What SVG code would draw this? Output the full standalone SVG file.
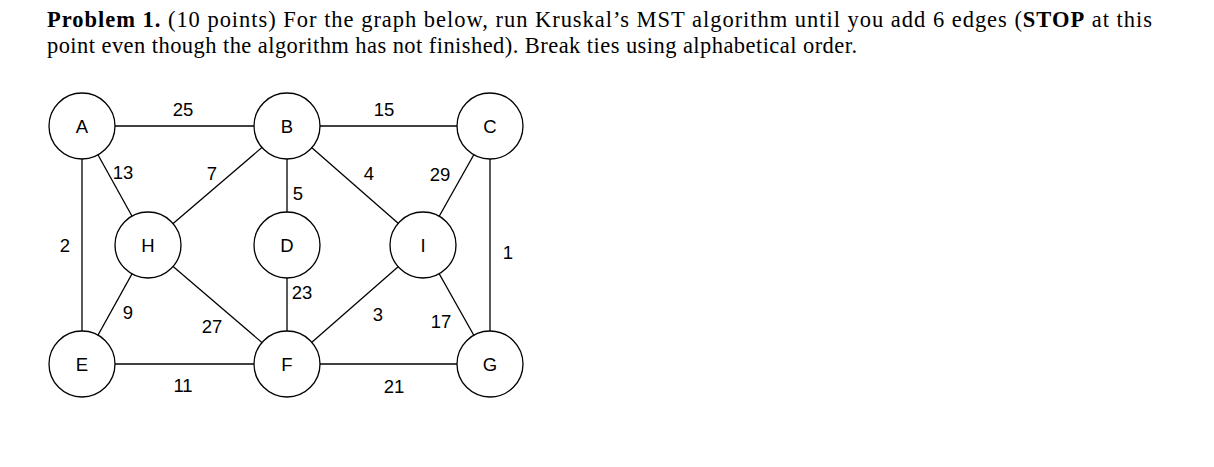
<svg xmlns="http://www.w3.org/2000/svg" width="1214" height="467" viewBox="0 0 1214 467">
<style>
.n{fill:#fff;stroke:#000;stroke-width:1.3}
.e{stroke:#000;stroke-width:1.3}
.t{font-family:"Liberation Sans",Arial,sans-serif;font-size:18.5px;text-anchor:middle;dominant-baseline:central}
.p{font-family:"Liberation Serif","Times New Roman",serif;font-size:22.5px}
</style>
<rect width="1214" height="467" fill="#fff"/>
<text class="p" x="47" y="27" textLength="1105" lengthAdjust="spacing"><tspan font-weight="bold">Problem  1.</tspan> (10 points) For the graph below, run Kruskal’s MST algorithm until you add 6 edges (<tspan font-weight="bold">STOP</tspan> at this</text>
<text class="p" x="47" y="53" textLength="810" lengthAdjust="spacing">point even though the algorithm has not finished). Break ties using alphabetical order.</text>
<g id="edges">
<line class="e" x1="82" y1="126" x2="287" y2="126"/>
<line class="e" x1="287" y1="126" x2="490" y2="126"/>
<line class="e" x1="82" y1="126" x2="148" y2="245"/>
<line class="e" x1="82" y1="126" x2="82" y2="364"/>
<line class="e" x1="287" y1="126" x2="148" y2="245"/>
<line class="e" x1="287" y1="126" x2="287" y2="364"/>
<line class="e" x1="287" y1="126" x2="423" y2="245"/>
<line class="e" x1="490" y1="126" x2="423" y2="245"/>
<line class="e" x1="490" y1="126" x2="490" y2="364"/>
<line class="e" x1="148" y1="245" x2="82" y2="364"/>
<line class="e" x1="148" y1="245" x2="287" y2="364"/>
<line class="e" x1="423" y1="245" x2="287" y2="364"/>
<line class="e" x1="423" y1="245" x2="490" y2="364"/>
<line class="e" x1="82" y1="364" x2="490" y2="364"/>
<g class="t">
<text x="183" y="109">25</text><text x="384" y="109">15</text>
<text x="123" y="172">13</text><text x="212" y="173">7</text>
<text x="298" y="193">5</text><text x="369" y="173">4</text>
<text x="440" y="174">29</text><text x="65" y="245">2</text>
<text x="508" y="252">1</text><text x="128" y="312">9</text>
<text x="212" y="326">27</text><text x="302" y="292">23</text>
<text x="378" y="314">3</text><text x="441" y="321">17</text>
<text x="183" y="385">11</text><text x="394" y="386">21</text>
</g>
</g>
<g id="A"><circle class="n" cx="82" cy="126" r="33"/><text class="t" x="82" y="126">A</text></g>
<g id="B"><circle class="n" cx="287" cy="126" r="33"/><text class="t" x="287" y="126">B</text></g>
<g id="C"><circle class="n" cx="490" cy="126" r="33"/><text class="t" x="490" y="126">C</text></g>
<g id="H"><circle class="n" cx="148" cy="245" r="33"/><text class="t" x="148" y="245">H</text></g>
<g id="D"><circle class="n" cx="287" cy="245" r="33"/><text class="t" x="287" y="245">D</text></g>
<g id="I"><circle class="n" cx="423" cy="245" r="33"/><text class="t" x="423" y="245">I</text></g>
<g id="E"><circle class="n" cx="82" cy="364" r="33"/><text class="t" x="82" y="364">E</text></g>
<g id="F"><circle class="n" cx="287" cy="364" r="33"/><text class="t" x="287" y="364">F</text></g>
<g id="G"><circle class="n" cx="490" cy="364" r="33"/><text class="t" x="490" y="364">G</text></g>
</svg>
